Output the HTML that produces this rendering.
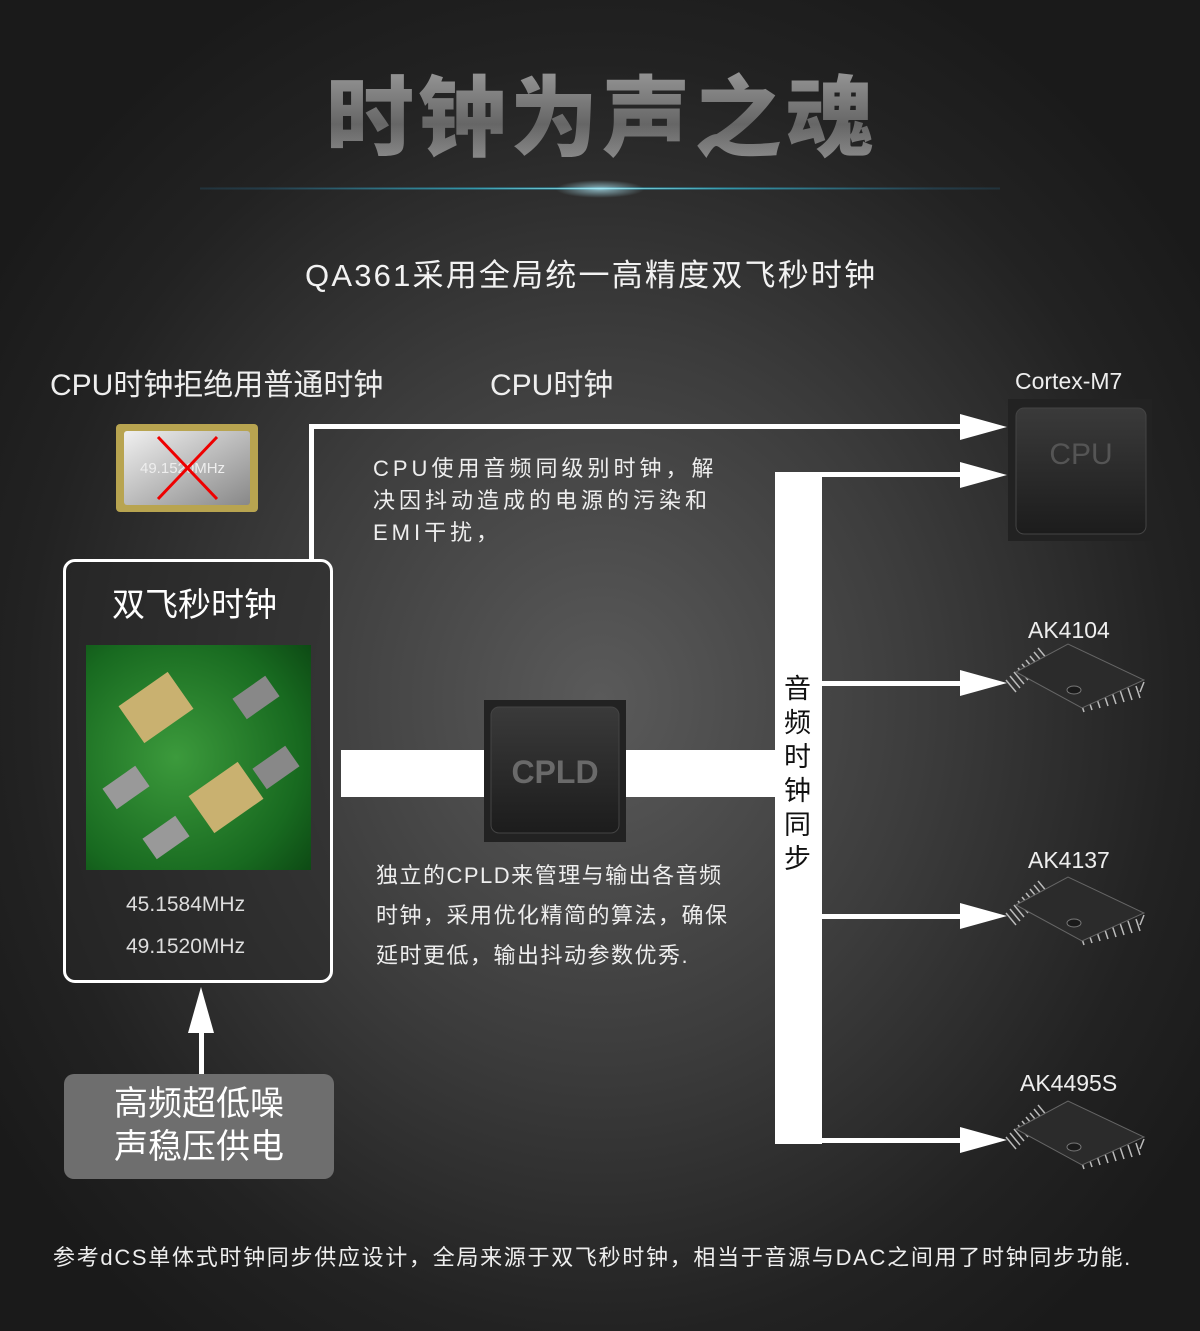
<!DOCTYPE html>
<html><head><meta charset="utf-8"><style>
*{margin:0;padding:0;box-sizing:border-box}
body{width:1200px;height:1331px;overflow:hidden;position:relative;font-family:"Liberation Sans","Noto Sans CJK SC",sans-serif;color:#fff;
background:radial-gradient(ellipse 720px 800px at 600px 700px,#5a5a5a 0%,#3c3c3c 45%,#222 80%,#1a1a1a 100%);}
.a{position:absolute}
.t{white-space:nowrap}
</style></head><body>
<div class="a t" style="left:326px;top:48px;font-size:88px;font-weight:900;letter-spacing:4px;color:#8a8a8a;background:linear-gradient(#aaa,#666 60%,#999);-webkit-background-clip:text;background-clip:text;-webkit-text-fill-color:transparent;font-family:'Noto Sans CJK SC',sans-serif">时钟为声之魂</div>
<div class="a" style="left:200px;top:187px;width:800px;height:3px;background:radial-gradient(ellipse at center,#bff 0%,#39a 25%,rgba(40,120,160,0.3) 60%,rgba(0,0,0,0) 100%)"></div>
<div class="a" style="left:555px;top:180px;width:90px;height:18px;border-radius:50%;background:radial-gradient(ellipse at center,rgba(180,240,255,.7),rgba(0,0,0,0) 70%)"></div>
<div class="a t" style="left:305px;top:250px;font-size:31px;letter-spacing:2.2px;color:#f2f2f2">QA361采用全局统一高精度双飞秒时钟</div>
<div class="a t" style="left:50px;top:360px;font-size:30px;color:#eee">CPU时钟拒绝用普通时钟</div>
<div class="a t" style="left:490px;top:360px;font-size:30px;color:#eee">CPU时钟</div>
<div class="a t" style="left:1015px;top:368px;font-size:23px;color:#eee">Cortex-M7</div>
<svg class="a" style="left:0;top:0" width="1200" height="1331">
<defs><linearGradient id="cg" x1="0" y1="0" x2="1" y2="1"><stop offset="0" stop-color="#f0f0f0"/><stop offset="1" stop-color="#888"/></linearGradient>
<linearGradient id="chip" x1="0" y1="0" x2="0" y2="1"><stop offset="0" stop-color="#3a3a3a"/><stop offset="1" stop-color="#1c1c1c"/></linearGradient></defs>
<g fill="#fff">
<rect x="309" y="424" width="5" height="138"/>
<rect x="309" y="424" width="655" height="5"/>
<polygon points="960,414 1007,427 960,440"/>
<rect x="822" y="472" width="142" height="5"/>
<polygon points="960,462 1007,475 960,488"/>
<rect x="775" y="472" width="47" height="672"/>
<rect x="822" y="681" width="142" height="5"/><polygon points="960,670 1007,683 960,696"/>
<rect x="822" y="914" width="142" height="5"/><polygon points="960,903 1007,916 960,929"/>
<rect x="822" y="1138" width="142" height="5"/><polygon points="960,1127 1007,1140 960,1153"/>
<rect x="341" y="750" width="434" height="47"/>
<rect x="199" y="1030" width="5" height="46"/>
<polygon points="188,1033 201,987 214,1033"/>
</g>
<rect x="116" y="424" width="142" height="88" rx="4" fill="#b8a450"/>
<rect x="124" y="431" width="126" height="74" rx="3" fill="url(#cg)"/>
<text x="140" y="473" font-size="15" fill="#eee" font-family="Liberation Sans">49.1520MHz</text>
<line x1="158" y1="437" x2="217" y2="499" stroke="#e00" stroke-width="3"/>
<line x1="217" y1="437" x2="158" y2="499" stroke="#e00" stroke-width="3"/>
<rect x="1008" y="399" width="144" height="142" fill="#222"/>
<rect x="1016" y="408" width="130" height="126" rx="8" fill="url(#chip)" stroke="#444"/>
<text x="1081" y="464" font-size="30" fill="#555" text-anchor="middle" font-family="Liberation Sans">CPU</text>
<rect x="484" y="700" width="142" height="142" fill="#222"/>
<rect x="491" y="707" width="128" height="126" rx="8" fill="url(#chip)" stroke="#444"/>
<text x="555" y="783" font-size="32" font-weight="bold" fill="#6a6a6a" text-anchor="middle" font-family="Liberation Sans">CPLD</text>
<g id="q">
<g stroke="#bbb" stroke-width="1.5" fill="none">
<path d="M1014 672 l10 12 M1018 668 l10 12 M1022 664 l10 12 M1026 660 l10 12 M1030 656 l10 12 M1034 652 l10 12 M1038 648 l10 12 M1010 676 l10 12 M1006 680 l10 12"/>
<path d="M1080 700 l4 12 M1088 698 l4 12 M1096 696 l4 12 M1104 694 l4 12 M1112 692 l4 12 M1120 690 l4 12 M1128 688 l4 12 M1136 686 l4 12 M1144 682 l-4 10"/>
</g>
<polygon points="1016,672 1068,644 1144,680 1082,708" fill="#2b2b2b" stroke="#666"/>
<ellipse cx="1074" cy="690" rx="7" ry="4" fill="#1a1a1a" stroke="#777"/>
</g>
<use href="#q" transform="translate(0,233)"/>
<use href="#q" transform="translate(0,457)"/>
</svg>
<div class="a t" style="left:1028px;top:617px;font-size:23px;color:#eee">AK4104</div>
<div class="a t" style="left:1028px;top:847px;font-size:23px;color:#eee">AK4137</div>
<div class="a t" style="left:1020px;top:1070px;font-size:23px;color:#eee">AK4495S</div>
<div class="a t" style="left:373px;top:453px;font-size:22px;line-height:32px;letter-spacing:4px;color:#eee">CPU使用音频同级别时钟，解<br>决因抖动造成的电源的污染和<br>EMI干扰，</div>
<div class="a t" style="left:376px;top:856px;font-size:22px;line-height:40px;letter-spacing:1.5px;color:#eee">独立的CPLD来管理与输出各音频<br>时钟，采用优化精简的算法，确保<br>延时更低，输出抖动参数优秀.</div>
<div class="a" style="left:784px;top:672px;width:30px;font-size:27px;line-height:34px;color:#111">音频时钟同步</div>
<div class="a" style="left:63px;top:559px;width:270px;height:424px;border:3px solid #fff;border-radius:12px;background:rgba(40,40,40,.5)"></div>
<div class="a t" style="left:112px;top:578px;font-size:33px;color:#fff">双飞秒时钟</div>
<div class="a" style="left:86px;top:645px;width:225px;height:225px;overflow:hidden;background:radial-gradient(circle at 40% 50%,#3c9a3c,#186a20 70%,#0d4a14)">
<div class="a" style="left:40px;top:40px;width:60px;height:45px;background:#c9b170;transform:rotate(-35deg)"></div>
<div class="a" style="left:110px;top:130px;width:60px;height:45px;background:#c9b170;transform:rotate(-35deg)"></div>
<div class="a" style="left:150px;top:40px;width:40px;height:25px;background:#888;transform:rotate(-35deg)"></div>
<div class="a" style="left:20px;top:130px;width:40px;height:25px;background:#999;transform:rotate(-35deg)"></div>
<div class="a" style="left:170px;top:110px;width:40px;height:25px;background:#888;transform:rotate(-35deg)"></div>
<div class="a" style="left:60px;top:180px;width:40px;height:25px;background:#999;transform:rotate(-35deg)"></div>
</div>
<div class="a t" style="left:126px;top:893px;font-size:21px;color:#ddd">45.1584MHz</div>
<div class="a t" style="left:126px;top:935px;font-size:21px;color:#ddd">49.1520MHz</div>
<div class="a" style="left:64px;top:1074px;width:270px;height:105px;border-radius:10px;background:#6e6e6e"></div>
<div class="a" style="left:114px;top:1083px;font-size:34px;line-height:43px;color:#fff">高频超低噪<br>声稳压供电</div>
<div class="a t" style="left:53px;top:1240px;font-size:22px;letter-spacing:1.7px;color:#eee">参考dCS单体式时钟同步供应设计，全局来源于双飞秒时钟，相当于音源与DAC之间用了时钟同步功能.</div>
</body></html>
